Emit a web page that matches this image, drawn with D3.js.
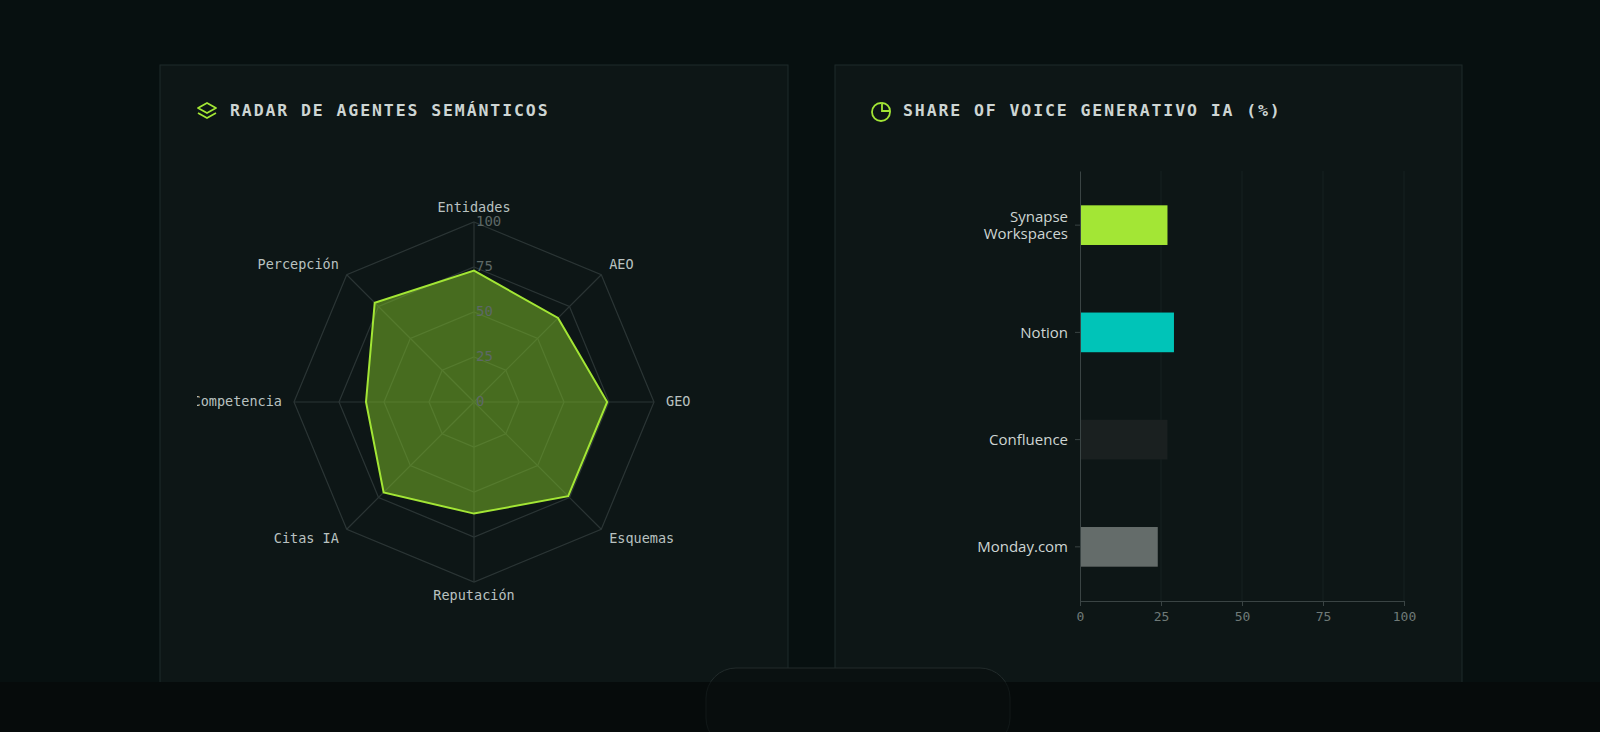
<!DOCTYPE html>
<html><head><meta charset="utf-8">
<script src="https://cdn.jsdelivr.net/npm/d3@7"></script>
<style>
body{margin:0;background:#071010;overflow:hidden}
</style></head>
<body><div id="app"></div>
<script>
// radar data
const radarAxes = ["Entidades", "AEO", "GEO", "Esquemas", "Reputación", "Citas IA", "Competencia", "Percepción"];
const radarValues = [73, 66, 74, 74, 62, 71, 60, 78];
const radarTicks = [0, 25, 50, 75, 100];

// bar data
const brands = ["Synapse Workspaces", "Notion", "Confluence", "Monday.com"];
const shares = [27, 29, 27, 24];
const brandColors = ["#a3e635", "#00c4b8", "#1a2020", "#646c6a"];
const xTicks = [0, 25, 50, 75, 100];

const W = 1600, H = 732;
const svg = d3.select("#app").append("svg").attr("width", W).attr("height", H);
svg.append("rect").attr("width", W).attr("height", H).attr("fill", "#071010");

// panels
const panels = [{x: 160, y: 65, w: 628, h: 640}, {x: 835, y: 65, w: 627, h: 640}];
svg.selectAll("rect.panel").data(panels).enter().append("rect")
  .attr("class", "panel")
  .attr("x", d => d.x).attr("y", d => d.y).attr("width", d => d.w).attr("height", d => d.h)
  .attr("fill", "#0d1616").attr("stroke", "#1f2a2a");

const mono = "'DejaVu Sans Mono', monospace";
function title(x, y, text) {
  svg.append("text").attr("x", x).attr("y", y).text(text)
    .attr("fill", "#cdd5d3").attr("font-family", mono).attr("font-size", 16.5).attr("font-weight", "bold")
    .attr("letter-spacing", 1.9).attr("dominant-baseline", "middle");
}
title(230, 111, "RADAR DE AGENTES SEMÁNTICOS");
title(903, 111, "SHARE OF VOICE GENERATIVO IA (%)");

// layers icon
const ic = svg.append("g").attr("transform", "translate(207,112)")
  .attr("fill", "none").attr("stroke", "#a3e635").attr("stroke-width", 1.8).attr("stroke-linejoin", "round");
ic.append("path").attr("d", "M0,-9 L9,-4 L0,1 L-9,-4 Z");
ic.append("path").attr("d", "M-9,1 L0,6 L9,1");
// pie icon
const pi = svg.append("g").attr("transform", "translate(881,112)")
  .attr("fill", "none").attr("stroke", "#a3e635").attr("stroke-width", 1.8);
pi.append("path").attr("d", d3.arc()({innerRadius: 9, outerRadius: 9, startAngle: Math.PI / 2, endAngle: 2 * Math.PI}));
pi.append("path").attr("d", "M1,-9 A8,8 0 0 1 9,-1 L1,-1 Z");

// ---- radar
const cx = 474, cy = 402, R = 180;
svg.append("clipPath").attr("id", "rclip").append("rect")
  .attr("x", 197).attr("y", 65).attr("width", 591).attr("height", 640);
const rScale = d3.scaleLinear().domain([0, 100]).range([0, R]);
const ang = d3.scalePoint().domain(radarAxes.concat(["_"])).range([0, 2 * Math.PI]);
const pt = (a, v) => [rScale(v) * Math.sin(ang(a)), -rScale(v) * Math.cos(ang(a))];
const rg = svg.append("g").attr("clip-path", "url(#rclip)")
  .append("g").attr("transform", `translate(${cx},${cy})`);
const gridColor = "#2b3535";
radarTicks.slice(1).forEach(t => {
  rg.append("path").attr("d", d3.line()(radarAxes.map(a => pt(a, t))) + "Z")
    .attr("fill", "none").attr("stroke", gridColor).attr("stroke-width", 1.2);
});
rg.selectAll("line.spoke").data(radarAxes).enter().append("line")
  .attr("x1", 0).attr("y1", 0)
  .attr("x2", d => pt(d, 100)[0]).attr("y2", d => pt(d, 100)[1])
  .attr("stroke", gridColor).attr("stroke-width", 1.2);
rg.append("path")
  .attr("d", d3.line()(radarAxes.map((a, i) => pt(a, radarValues[i]))) + "Z")
  .attr("fill", "rgba(120,180,40,0.55)").attr("stroke", "#a3e635").attr("stroke-width", 2);
rg.selectAll("text.tick").data(radarTicks).enter().append("text")
  .attr("x", 2).attr("y", d => -rScale(d)).text(d => d)
  .attr("fill", "#5d6866").attr("font-family", mono).attr("font-size", 14)
  .attr("dominant-baseline", "middle");
rg.selectAll("text.lab").data(radarAxes).enter().append("text")
  .attr("x", d => pt(d, 100)[0] + 14 * Math.sin(ang(d)))
  .attr("y", d => pt(d, 100)[1] - 14 * Math.cos(ang(d)))
  .text(d => d)
  .attr("text-anchor", d => { const s = Math.sin(ang(d)); return Math.abs(s) < 0.1 ? "middle" : (s > 0 ? "start" : "end"); })
  .attr("dx", d => { const s = Math.sin(ang(d)); return Math.abs(s) < 0.1 ? 0 : (s > 0 ? -2 : 2); })
  .attr("dominant-baseline", "middle")
  .attr("fill", "#b9c2c0").attr("font-family", mono).attr("font-size", 13.5);

// ---- bars
const x = d3.scaleLinear().domain([0, 100]).range([1080, 1404]);
const y = d3.scaleBand().domain(brands).range([171, 601]).paddingInner(0.63).paddingOuter(0.32);
const bg = svg.append("g");
bg.selectAll("line.grid").data(xTicks.slice(1)).enter().append("line")
  .attr("x1", d => x(d)).attr("x2", d => x(d)).attr("y1", 171).attr("y2", 601)
  .attr("stroke", "#162020");
bg.selectAll("rect.bar").data(brands).enter().append("rect")
  .attr("x", x(0)).attr("y", d => y(d)).attr("height", y.bandwidth())
  .attr("width", (d, i) => x(shares[i]) - x(0)).attr("fill", (d, i) => brandColors[i]);
const xAxis = svg.append("g").attr("transform", "translate(0,601)")
  .call(d3.axisBottom(x).tickValues(xTicks).tickSize(5).tickSizeOuter(0).tickPadding(6));
xAxis.select(".domain").attr("stroke", "#3a4444");
xAxis.selectAll("line").attr("stroke", "#3a4444");
xAxis.selectAll("text").attr("fill", "#6f7a78").attr("font-family", mono).attr("font-size", 13);
const yAxis = svg.append("g").attr("transform", "translate(1080,0)")
  .call(d3.axisLeft(y).tickSize(5).tickSizeOuter(0).tickPadding(6).tickFormat(""));
yAxis.select(".domain").attr("stroke", "#3a4444");
yAxis.selectAll("line").attr("stroke", "#3a4444");
yAxis.selectAll(".tick").each(function (d) {
  const words = d === "Synapse Workspaces" ? ["Synapse", "Workspaces"] : [d];
  const t = d3.select(this).append("text").attr("x", -12).attr("text-anchor", "end")
    .attr("fill", "#cdd5d3").attr("font-family", "'Open Sans', sans-serif").attr("font-size", 15);
  words.forEach((w, i) => t.append("tspan").attr("x", -12)
    .attr("y", (i - (words.length - 1) / 2) * 17).attr("dy", "0.35em").text(w));
});

// bottom strip and pill
svg.append("rect").attr("x", 0).attr("y", 682).attr("width", W).attr("height", 50).attr("fill", "#060b0b");
svg.append("rect").attr("x", 706).attr("y", 668).attr("width", 304).attr("height", 80).attr("rx", 30)
  .attr("fill", "#0a1111").attr("stroke", "#222b2b");
svg.append("rect").attr("x", 0).attr("y", 682).attr("width", W).attr("height", 50).attr("fill", "#060b0b").attr("opacity", 0.6);
</script></body></html>
